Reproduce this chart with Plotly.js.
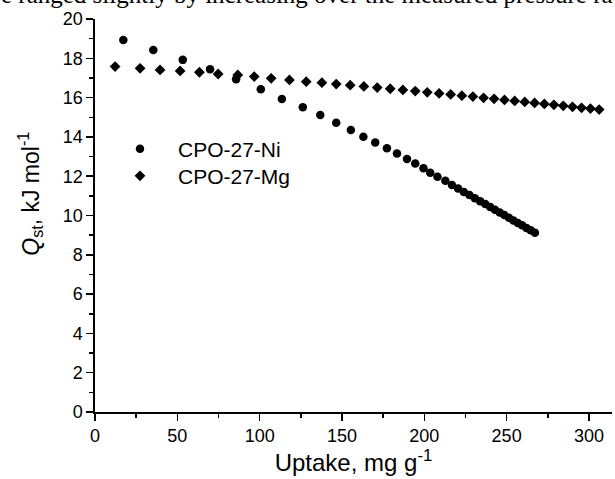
<!DOCTYPE html>
<html>
<head>
<meta charset="utf-8">
<script src="https://cdn.plot.ly/plotly-3.0.1.min.js"></script>
<style>html,body{margin:0;padding:0;background:#fff;}#chart{width:615px;height:479px;}</style>
</head>
<body>
<div id="chart"></div>
<script>
// CPO-27-Ni (circles)
var niUptake = [17.2, 35.4, 53.3, 69.9, 85.7, 100.7, 113.5, 126.2, 136.8, 146.5, 155.4, 163.0, 170.2, 177.3, 183.4, 189.5, 194.5, 199.5, 203.6, 208.0, 212.8, 216.8, 220.5, 224.0, 227.4, 230.7, 233.9, 237.0, 240.0, 242.9, 245.8, 248.6, 251.4, 254.1, 256.8, 259.4, 262.0, 264.6, 267.2];
var niQst = [18.93, 18.42, 17.92, 17.44, 16.93, 16.42, 15.93, 15.51, 15.11, 14.72, 14.35, 14.01, 13.72, 13.42, 13.16, 12.87, 12.65, 12.40, 12.18, 11.97, 11.77, 11.55, 11.37, 11.20, 11.04, 10.88, 10.73, 10.58, 10.43, 10.29, 10.15, 10.02, 9.88, 9.75, 9.62, 9.50, 9.37, 9.25, 9.12];
// CPO-27-Mg (diamonds)
var mgUptake = [12.2, 27.4, 39.5, 51.7, 63.4, 74.8, 86.7, 96.7, 107.0, 118.1, 128.3, 137.8, 146.5, 155.0, 163.3, 171.4, 179.3, 187.0, 194.5, 201.8, 209.0, 216.0, 222.8, 229.5, 236.0, 242.4, 248.7, 254.9, 261.0, 267.0, 272.9, 278.7, 284.4, 290.0, 295.5, 300.9, 306.2];
var mgQst = [17.58, 17.49, 17.41, 17.36, 17.29, 17.20, 17.15, 17.07, 16.98, 16.90, 16.81, 16.76, 16.69, 16.63, 16.57, 16.51, 16.45, 16.39, 16.33, 16.27, 16.21, 16.16, 16.10, 16.05, 15.99, 15.94, 15.88, 15.83, 15.78, 15.73, 15.68, 15.63, 15.58, 15.53, 15.48, 15.44, 15.39];

var seriesNames = ["CPO-27-Ni", "CPO-27-Mg"];
var xTitle = "Uptake, mg g<sup>-1</sup>";
var yTitle = "<i>Q</i><sub>st</sub>, kJ mol<sup>-1</sup>";
var topText = "e ranged slightly by increasing over the measured pressure ra";

var F = "Liberation Sans, Arial, sans-serif";

var traces = [
  {x: niUptake, y: niQst, name: seriesNames[0], type: "scatter", mode: "markers",
   marker: {symbol: "circle", size: 8.5, color: "#000"}, legend: "legend", cliponaxis: false},
  {x: mgUptake, y: mgQst, name: seriesNames[1], type: "scatter", mode: "markers",
   marker: {symbol: "diamond", size: 8.3, color: "#000"}, legend: "legend2", cliponaxis: false}
];

var axCommon = {
  showgrid: false, zeroline: false, showline: true, linecolor: "#000", linewidth: 1.6,
  ticks: "outside", ticklen: 7, tickwidth: 1.5, tickcolor: "#000",
  tickfont: {family: F, size: 18, color: "#000"}
};

var legCommon = {
  font: {family: F, size: 21, color: "#000"}, bgcolor: "rgba(0,0,0,0)",
  xref: "paper", yref: "paper", xanchor: "left", yanchor: "middle", itemwidth: 66
};

var layout = {
  width: 615, height: 479,
  margin: {l: 95, r: 3, t: 19, b: 67, pad: 0},
  paper_bgcolor: "#fff", plot_bgcolor: "#fff",
  showlegend: true,
  legend: Object.assign({x: 0.0135, y: 0.669}, legCommon),
  legend2: Object.assign({x: 0.0135, y: 0.600}, legCommon),
  xaxis: Object.assign({}, axCommon, {
    range: [0, 314], tickvals: [0, 50, 100, 150, 200, 250, 300],
    minor: {tickvals: [25, 75, 125, 175, 225, 275], ticks: "outside", ticklen: 4, tickwidth: 1.5, tickcolor: "#000"},
    title: {text: xTitle, font: {family: F, size: 24, color: "#000"}, standoff: 8}
  }),
  yaxis: Object.assign({}, axCommon, {
    range: [0, 20], tickvals: [0, 2, 4, 6, 8, 10, 12, 14, 16, 18, 20],
    minor: {tickvals: [1, 3, 5, 7, 9, 11, 13, 15, 17, 19], ticks: "outside", ticklen: 4, tickwidth: 1.5, tickcolor: "#000"}
  }),
  annotations: [
    {text: yTitle, xref: "paper", yref: "paper", x: -0.126, y: 0.555, xanchor: "center", yanchor: "middle",
     textangle: -90, showarrow: false, font: {family: F, size: 23, color: "#000"}},
    {text: topText, xref: "paper", yref: "paper", x: 0.41, y: 1.0623, xanchor: "center", yanchor: "middle",
     showarrow: false, font: {family: "Liberation Serif, Times New Roman, serif", size: 25, color: "#000"}}
  ]
};

Plotly.newPlot("chart", traces, layout, {displayModeBar: false, staticPlot: true});
</script>
</body>
</html>
